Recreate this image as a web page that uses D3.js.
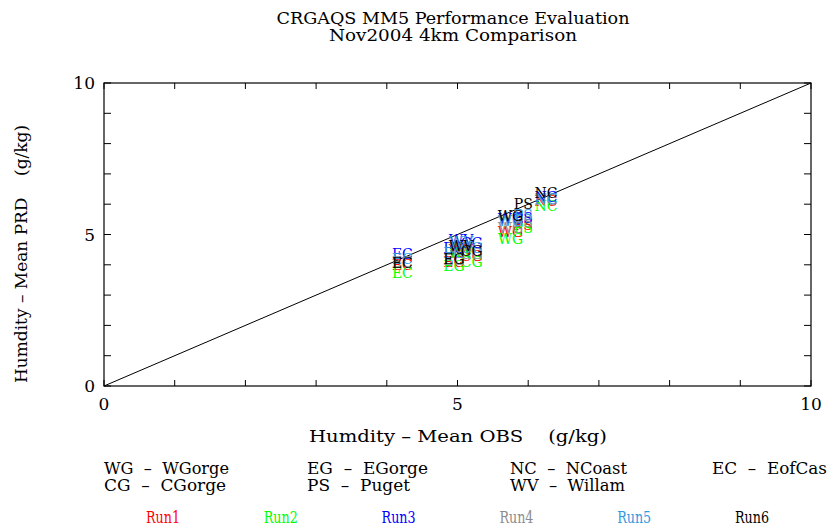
<!DOCTYPE html>
<html><head><meta charset="utf-8">
<script src="https://cdn.jsdelivr.net/npm/d3@7"></script>
<style>body{margin:0;background:#fff}svg{display:block}text{font-family:"DejaVu Serif","Liberation Serif",serif}</style>
</head><body>
<svg id="c" width="827" height="529"></svg>
<script>
const sites = ["WG","CG","EG","PS","NC","WV","EC"];
const siteNames = ["WGorge","CGorge","EGorge","Puget","NCoast","Willam","EofCas"];
const obs = [5.75, 5.2, 4.95, 5.93, 6.25, 5.05, 4.22];
const runs = ["Run1","Run2","Run3","Run4","Run5","Run6"];
const runColors = ["#ff0000","#00ff00","#0000ff","#8c8c8c","#3399dd","#000000"];
const run1 = [5.08, 4.30, 4.10, 5.30, 6.10, 4.50, 4.00];
const run2 = [4.85, 4.10, 3.95, 5.20, 5.95, 4.40, 3.72];
const run3 = [5.50, 4.72, 4.55, 5.55, 6.25, 4.82, 4.35];
const run4 = [5.22, 4.35, 4.15, 5.40, 6.15, 4.55, 4.10];
const run5 = [5.45, 4.55, 4.40, 5.65, 6.18, 4.75, 4.20];
const run6 = [5.60, 4.45, 4.20, 6.00, 6.35, 4.62, 4.05];
const prd = [run1, run2, run3, run4, run5, run6];
const majorTicks = [0, 5, 10];
const minorTicks = d3.range(0, 11, 1);

const svg = d3.select("#c");
const L = 104, R = 811, T = 83, B = 386;
const x = d3.scaleLinear().domain([0, 10]).range([L, R]);
const y = d3.scaleLinear().domain([0, 10]).range([B, T]);

function fitText(sel, len) {
  return sel.attr("textLength", len).attr("lengthAdjust", "spacingAndGlyphs");
}

// title
fitText(svg.append("text").attr("x", 453).attr("y", 24).attr("text-anchor", "middle").attr("font-size", 16).text("CRGAQS MM5 Performance Evaluation"), 353);
fitText(svg.append("text").attr("x", 453).attr("y", 41).attr("text-anchor", "middle").attr("font-size", 16).text("Nov2004 4km Comparison"), 248);

// frame
svg.append("rect").attr("x", L).attr("y", T).attr("width", R - L).attr("height", B - T).attr("fill", "none").attr("stroke", "#000").attr("stroke-width", 1.2);

// ticks (inward on all sides)
const g = svg.append("g").attr("stroke", "#000").attr("stroke-width", 1);
minorTicks.forEach(v => {
  g.append("line").attr("x1", x(v)).attr("x2", x(v)).attr("y1", B).attr("y2", B - 6);
  g.append("line").attr("x1", x(v)).attr("x2", x(v)).attr("y1", T).attr("y2", T + 6);
  g.append("line").attr("y1", y(v)).attr("y2", y(v)).attr("x1", L).attr("x2", L + 7);
  g.append("line").attr("y1", y(v)).attr("y2", y(v)).attr("x1", R).attr("x2", R - 7);
});

// tick labels
majorTicks.forEach(v => {
  svg.append("text").attr("x", x(v)).attr("y", B + 24).attr("text-anchor", "middle").attr("font-size", 17).text(v);
  svg.append("text").attr("x", L - 9).attr("y", y(v) + 6).attr("text-anchor", "end").attr("font-size", 17).text(v);
});

// axis titles
fitText(svg.append("text").attr("x", 458).attr("y", 442).attr("text-anchor", "middle").attr("font-size", 16).attr("xml:space", "preserve").text("Humdity \u2013 Mean OBS    (g/kg)"), 298);
fitText(svg.append("text").attr("transform", "translate(27,254) rotate(-90)").attr("text-anchor", "middle").attr("font-size", 16).attr("xml:space", "preserve").text("Humdity \u2013 Mean PRD    (g/kg)"), 258);

// 1:1 line
svg.append("line").attr("x1", x(0)).attr("y1", y(0)).attr("x2", x(10)).attr("y2", y(10)).attr("stroke", "#000").attr("stroke-width", 1);

// data labels
prd.forEach((vals, ri) => {
  vals.forEach((v, si) => {
    svg.append("text").attr("x", x(obs[si])).attr("y", y(v)).attr("dy", "0.35em")
      .attr("text-anchor", "middle").attr("font-size", 14).attr("fill", runColors[ri]).text(sites[si]);
  });
});

// site legend
const legX = [104, 307, 510, 712];
const legOrder = [["WG","EG","NC","EC"],["CG","PS","WV"]];
const legLen = [[125, 121, 117, 115], [122, 103, 115]];
legOrder.forEach((row, ri) => {
  row.forEach((s, ci) => {
    const idx = sites.indexOf(s);
    fitText(svg.append("text").attr("x", legX[ci]).attr("y", 474 + ri * 17).attr("font-size", 16).attr("xml:space", "preserve")
      .text(s + "  \u2013  " + siteNames[idx]), legLen[ri][ci]);
  });
});

// run legend
const runX = d3.scaleLinear().domain([0, 5]).range([163, 752]);
runs.forEach((r, i) => {
  fitText(svg.append("text").attr("x", runX(i)).attr("y", 523).attr("text-anchor", "middle").attr("font-size", 16).attr("fill", runColors[i]).text(r), 34);
});
</script>
</body></html>
